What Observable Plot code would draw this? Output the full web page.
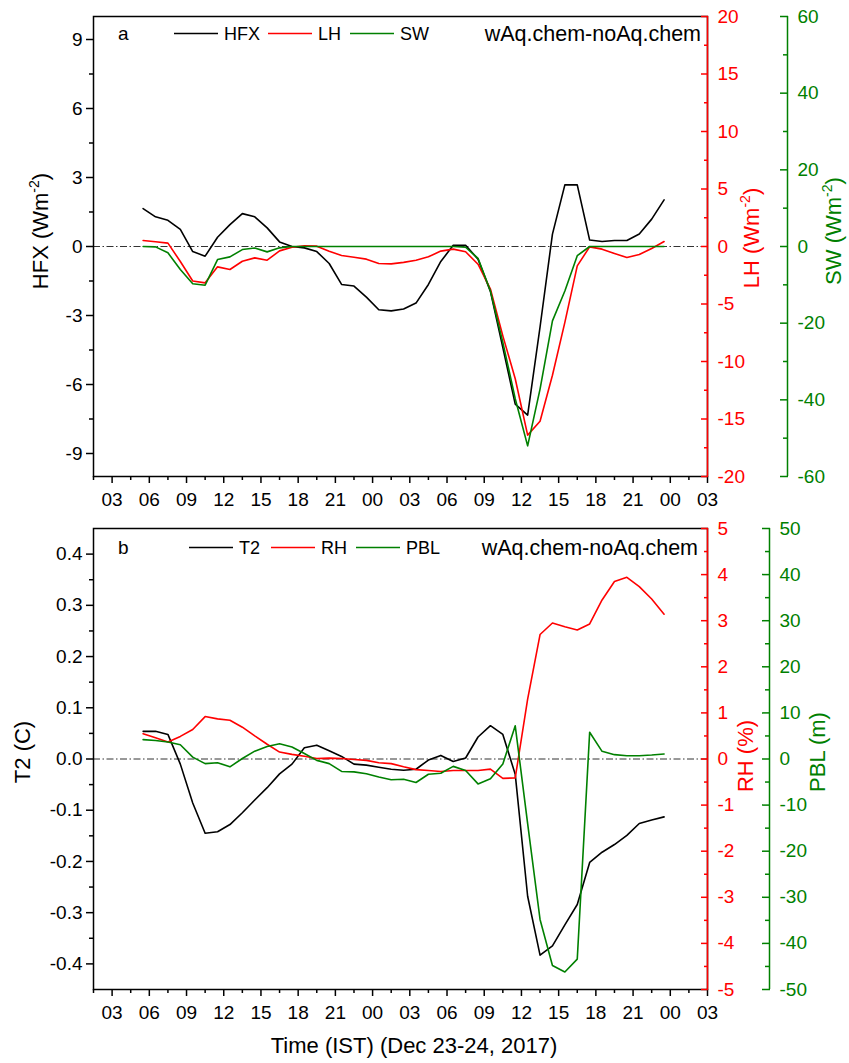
<!DOCTYPE html>
<html>
<head>
<meta charset="utf-8">
<script src="https://cdn.jsdelivr.net/npm/d3@7"></script>
<script src="https://cdn.jsdelivr.net/npm/@observablehq/plot@0.6"></script>
<style>
  body { margin: 0; background: #fff; }
  #chart { position: relative; width: 849px; height: 1063px; background: #fff; }
  #chart svg { position: absolute; left: 0; }
</style>
</head>
<body>
<div id="chart"></div>
<script>
// ---------- data (hours since Dec 23 00:00 IST) ----------
const times = [5.5,6.5,7.5,8.5,9.5,10.5,11.5,12.5,13.5,14.5,15.5,16.5,17.5,18.5,19.5,20.5,21.5,22.5,23.5,24.5,25.5,26.5,27.5,28.5,29.5,30.5,31.5,32.5,33.5,34.5,35.5,36.5,37.5,38.5,39.5,40.5,41.5,42.5,43.5,44.5,45.5,46.5,47.5];

// panel a
const hfx = [1.65,1.29,1.14,0.74,-0.22,-0.42,0.40,0.95,1.43,1.29,0.81,0.20,0.00,-0.06,-0.22,-0.74,-1.65,-1.72,-2.20,-2.75,-2.80,-2.72,-2.46,-1.65,-0.65,0.05,0.05,-0.55,-1.95,-4.40,-6.85,-7.33,-3.50,0.54,2.68,2.68,0.28,0.22,0.26,0.26,0.54,1.19,2.03];
const lh = [0.52,0.41,0.29,-1.30,-3.00,-3.16,-1.77,-2.00,-1.28,-0.99,-1.19,-0.38,-0.06,0.06,0.03,-0.41,-0.78,-0.93,-1.10,-1.48,-1.51,-1.38,-1.19,-0.90,-0.40,-0.23,-0.46,-1.54,-3.70,-7.77,-11.5,-16.4,-15.2,-11.2,-6.6,-1.68,-0.03,-0.23,-0.60,-0.96,-0.70,-0.17,0.43];
const sw = [0,-0.1,-1.65,-6.0,-9.7,-10.1,-3.4,-2.7,-0.8,-0.4,-1.4,-0.35,0,0,0,0,0,0,0,0,0,0,0,0,0,0,-0.2,-3.1,-11.6,-25.0,-39.7,-52.0,-37.2,-19.4,-11.6,-2.4,0,0,0,0,0,0,0];

// panel b
const t2 = [0.054,0.054,0.048,-0.010,-0.086,-0.145,-0.142,-0.128,-0.105,-0.080,-0.056,-0.029,-0.010,0.022,0.027,0.016,0.005,-0.010,-0.012,-0.016,-0.020,-0.022,-0.020,-0.002,0.007,-0.005,0.002,0.043,0.065,0.048,-0.030,-0.268,-0.383,-0.365,-0.324,-0.284,-0.202,-0.182,-0.167,-0.149,-0.126,-0.119,-0.113];
const rh = [0.55,0.46,0.37,0.49,0.64,0.92,0.87,0.84,0.69,0.50,0.32,0.15,0.10,0.06,0.01,0.02,0.01,-0.01,-0.03,-0.08,-0.10,-0.17,-0.23,-0.25,-0.27,-0.25,-0.25,-0.25,-0.22,-0.42,-0.41,1.30,2.70,2.95,2.87,2.80,2.93,3.45,3.85,3.94,3.74,3.47,3.14];
const pbl = [4.2,4.0,3.7,3.1,0.4,-1.0,-0.8,-1.7,0.1,1.7,2.7,3.3,2.6,1.2,-0.3,-1.0,-2.7,-2.8,-3.2,-3.9,-4.5,-4.4,-5.1,-3.3,-3.1,-1.6,-2.5,-5.4,-4.3,-1.1,7.2,-14.0,-34.8,-44.8,-46.2,-43.4,5.8,1.66,0.94,0.72,0.72,0.87,1.08];

// ticks
const xMajor = [3,6,9,12,15,18,21,24,27,30,33,36,39,42,45,48,51];
const xMinor = [1.5,4.5,7.5,10.5,13.5,16.5,19.5,22.5,25.5,28.5,31.5,34.5,37.5,40.5,43.5,46.5,49.5];
const hfxMajor = [-9,-6,-3,0,3,6,9];
const hfxMinor = [-7.5,-4.5,-1.5,1.5,4.5,7.5];
const lhMajor = [-20,-15,-10,-5,0,5,10,15,20];
const lhMinor = [-17.5,-12.5,-7.5,-2.5,2.5,7.5,12.5,17.5];
const swMajor = [-60,-40,-20,0,20,40,60];
const swMinor = [-50,-30,-10,10,30,50];
const t2Major = [-0.4,-0.3,-0.2,-0.1,0.0,0.1,0.2,0.3,0.4];
const t2Minor = [-0.35,-0.25,-0.15,-0.05,0.05,0.15,0.25,0.35];
const rhMajor = [-5,-4,-3,-2,-1,0,1,2,3,4,5];
const rhMinor = [-4.5,-3.5,-2.5,-1.5,-0.5,0.5,1.5,2.5,3.5,4.5];
const pblMajor = [-50,-40,-30,-20,-10,0,10,20,30,40,50];
const pblMinor = [-45,-35,-25,-15,-5,5,15,25,35,45];

// ---------- drawing ----------
const RED = "#ff0000", GREEN = "#008000", BLACK = "#000000";
const FONT = '"Liberation Sans", Arial, Helvetica, sans-serif';
const fmtNum = v => String(Math.round(v * 1000) / 1000);
const xFmt = h => String(h % 24).padStart(2, "0");

function buildPanel(cfg) {
  const rowsOf = (vals, k) => times.map((t, i) => ({t, v: vals[i] * k}));
  const sw3 = 1.5;
  return Plot.plot({
    width: 849, height: cfg.height,
    marginLeft: 93, marginRight: 142, marginTop: cfg.marginTop, marginBottom: cfg.marginBottom,
    style: {fontFamily: FONT, fontSize: "19px", background: "white", color: "black", overflow: "visible"},
    x: {domain: [1.5, 51]},
    y: {domain: cfg.yDomain},
    marks: [
      Plot.ruleY([0], {stroke: "#333", strokeWidth: 1, strokeDasharray: "7,2.5,1.5,2.5"}),
      Plot.line(rowsOf(cfg.s1, 1), {x: "t", y: "v", stroke: BLACK, strokeWidth: 1.6}),
      Plot.line(rowsOf(cfg.s2, cfg.kRed), {x: "t", y: "v", stroke: RED, strokeWidth: 1.6}),
      Plot.line(rowsOf(cfg.s3, cfg.kGreen), {x: "t", y: "v", stroke: GREEN, strokeWidth: 1.6}),
      Plot.frame({stroke: BLACK, strokeWidth: sw3}),
      Plot.ruleX([51], {stroke: RED, strokeWidth: sw3}),
      Plot.ruleX([51], {stroke: GREEN, strokeWidth: sw3, dx: cfg.greenOffset}),
      // x axis
      Plot.axisX(xMajor, {anchor: "bottom", tickSize: 7, tickPadding: 9, strokeWidth: sw3, tickFormat: xFmt, label: null}),
      Plot.axisX(xMinor, {anchor: "bottom", tickSize: 4, strokeWidth: sw3, fill: "none", label: null}),
      // left axis
      Plot.axisY(cfg.leftMajor, {anchor: "left", tickSize: 7, tickPadding: 4, strokeWidth: sw3, tickFormat: cfg.leftFmt, label: null}),
      Plot.axisY(cfg.leftMinor, {anchor: "left", tickSize: 4, strokeWidth: sw3, fill: "none", label: null}),
      // red axis (ticks inward)
      Plot.axisY(cfg.redMajor.map(v => v * cfg.kRed), {anchor: "right", tickSize: 7, dx: -7, stroke: RED, strokeWidth: sw3, fill: "none", label: null}),
      Plot.axisY(cfg.redMinor.map(v => v * cfg.kRed), {anchor: "right", tickSize: 4, dx: -4, stroke: RED, strokeWidth: sw3, fill: "none", label: null}),
      Plot.axisY(cfg.redMajor.map(v => v * cfg.kRed), {anchor: "right", tickSize: 0, tickPadding: 10, stroke: "none", fill: RED, tickFormat: v => fmtNum(v / cfg.kRed), label: null}),
      // green axis (offset, ticks inward)
      Plot.axisY(cfg.greenMajor.map(v => v * cfg.kGreen), {anchor: "right", tickSize: 8, dx: cfg.greenOffset - 8, stroke: GREEN, strokeWidth: sw3, fill: "none", label: null}),
      Plot.axisY(cfg.greenMinor.map(v => v * cfg.kGreen), {anchor: "right", tickSize: 5, dx: cfg.greenOffset - 5, stroke: GREEN, strokeWidth: sw3, fill: "none", label: null}),
      Plot.axisY(cfg.greenMajor.map(v => v * cfg.kGreen), {anchor: "right", tickSize: 0, tickPadding: 10, dx: cfg.greenOffset, stroke: "none", fill: GREEN, tickFormat: v => fmtNum(v / cfg.kGreen), label: null})
    ]
  });
}

function addTitle(svg, x, y, color, main, sup, tail) {
  const t = d3.select(svg).append("text")
    .attr("transform", `translate(${x},${y}) rotate(-90)`)
    .attr("text-anchor", "middle")
    .attr("fill", color)
    .style("font-family", FONT).style("font-size", "22px");
  t.append("tspan").text(main);
  if (sup) {
    t.append("tspan").text(sup).attr("dy", -9).style("font-size", "14px");
    t.append("tspan").text(tail).attr("dy", 9);
  }
}

function addLegend(svg, letter, y, items, note, noteX) {
  const g = d3.select(svg).append("g").style("font-family", FONT).attr("fill", BLACK);
  g.append("text").attr("x", 118).attr("y", y).attr("dy", "0.35em").attr("text-anchor", "start")
    .style("font-size", "19px").text(letter);
  for (const it of items) {
    g.append("line").attr("x1", it.x1).attr("x2", it.x2).attr("y1", y).attr("y2", y)
      .attr("stroke", it.color).attr("stroke-width", 1.6);
    g.append("text").attr("x", it.x2 + 6).attr("y", y).attr("dy", "0.35em").attr("text-anchor", "start")
      .style("font-size", "18px").text(it.label);
  }
  g.append("text").attr("x", noteX).attr("y", y).attr("dy", "0.35em").attr("text-anchor", "end")
    .style("font-size", "21.5px").text(note);
}

const chart = document.getElementById("chart");

// Panel a
const svgA = buildPanel({
  height: 510, marginTop: 16, marginBottom: 34,
  yDomain: [-10, 10], kRed: 0.5, kGreen: 10 / 60, greenOffset: 80,
  s1: hfx, s2: lh, s3: sw,
  leftMajor: hfxMajor, leftMinor: hfxMinor, leftFmt: v => String(v),
  redMajor: lhMajor, redMinor: lhMinor, greenMajor: swMajor, greenMinor: swMinor
});
svgA.style.top = "0px";
chart.appendChild(svgA);
addTitle(svgA, 48, 231, BLACK, "HFX (Wm", "-2", ")");
addTitle(svgA, 759, 238, RED, "LH (Wm", "-2", ")");
addTitle(svgA, 841, 231, GREEN, "SW (Wm", "-2", ")");
addLegend(svgA, "a", 33.5, [
  {x1: 174, x2: 218, color: BLACK, label: "HFX"},
  {x1: 268, x2: 312, color: RED, label: "LH"},
  {x1: 350, x2: 394, color: GREEN, label: "SW"}
], "wAq.chem-noAq.chem", 701);

// Panel b
const svgB = buildPanel({
  height: 553, marginTop: 18, marginBottom: 74,
  yDomain: [-0.45, 0.45], kRed: 0.09, kGreen: 0.009, greenOffset: 62,
  s1: t2, s2: rh, s3: pbl,
  leftMajor: t2Major, leftMinor: t2Minor, leftFmt: v => v.toFixed(1),
  redMajor: rhMajor, redMinor: rhMinor, greenMajor: pblMajor, greenMinor: pblMinor
});
svgB.style.top = "510px";
chart.appendChild(svgB);
addTitle(svgB, 29.5, 242, BLACK, "T2 (C)");
addTitle(svgB, 753, 246, RED, "RH (%)");
addTitle(svgB, 825, 242, GREEN, "PBL (m)");
addLegend(svgB, "b", 37.5, [
  {x1: 189, x2: 233, color: BLACK, label: "T2"},
  {x1: 271, x2: 315, color: RED, label: "RH"},
  {x1: 356, x2: 400, color: GREEN, label: "PBL"}
], "wAq.chem-noAq.chem", 698);
d3.select(svgB).append("text")
  .attr("x", 414).attr("y", 543).attr("text-anchor", "middle")
  .style("font-family", FONT).style("font-size", "22px")
  .text("Time (IST) (Dec 23-24, 2017)");
</script>
</body>
</html>
